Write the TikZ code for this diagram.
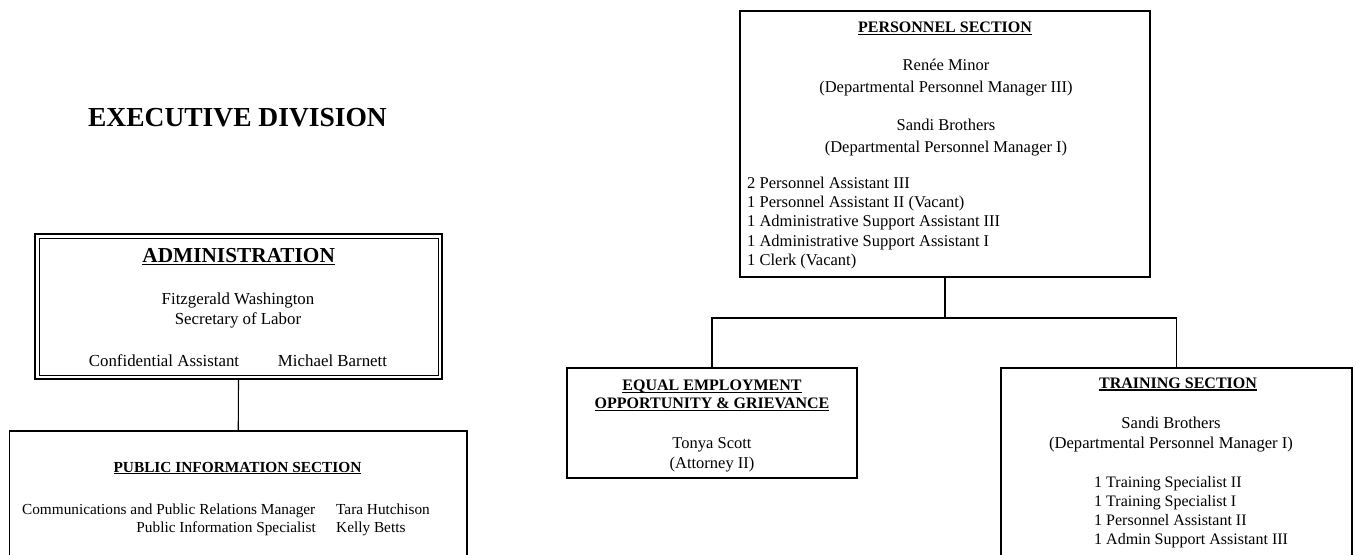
\documentclass[tikz,border=0pt]{standalone}
\usepackage{fontspec}
\setmainfont{Liberation Serif}
\newcommand\ulx[1]{\setbox0\hbox{#1}\rlap{\rule[-0.15em]{\wd0}{0.07em}}\box0}
\begin{document}
\begin{tikzpicture}[x=1pt,y=-1pt,
  box/.style={draw, line width=1.1pt, inner sep=0pt, outer sep=0pt},
  conn/.style={draw, line width=1.1pt},
  ttl/.style={font=\bfseries\fontsize{16}{18}\selectfont, anchor=base, inner sep=0pt},
  txt/.style={inner sep=0pt, align=center},
  lst/.style={inner sep=0pt, align=left, anchor=west}]
\useasboundingbox (0,0) rectangle (1356,554);
\clip (0,0) rectangle (1356,554);

\node[font=\bfseries\fontsize{27.5}{30}\selectfont, inner sep=0pt] (exec) at (237.5,118) {EXECUTIVE DIVISION};

% Administration
\node[box, line width=2pt, minimum width=407pt, minimum height=145pt] (admin) at (238.5,306.5) {};
\draw[line width=1pt] ([shift={(4,4)}]admin.north west) rectangle ([shift={(-4,-4)}]admin.south east);
\node[ttl, font=\bfseries\fontsize{21.3}{24}\selectfont] (admt) at (238.7,262) {\ulx{ADMINISTRATION}};
\node[txt, font=\fontsize{16.85}{20}\selectfont] (sec) at (238,310.5) {Fitzgerald Washington\\Secretary of Labor};
\node[inner sep=0pt, anchor=base, font=\fontsize{16.85}{20}\selectfont] (ca) at (164,366.6) {Confidential Assistant};
\node[inner sep=0pt, anchor=base, font=\fontsize{16.85}{20}\selectfont] (mb) at (332.5,366.6) {Michael Barnett};

% Public information
\node[box, minimum width=457.5pt, minimum height=200pt, anchor=north] (pis) at (238.25,431) {};
\node[ttl, font=\bfseries\fontsize{15.35}{18}\selectfont] (pist) at (237.5,472) {\ulx{PUBLIC INFORMATION SECTION}};
\node[inner sep=0pt, anchor=base east, font=\fontsize{15.3}{18}\selectfont] (cprm) at (315.5,514) {Communications and Public Relations Manager};
\node[inner sep=0pt, anchor=base east, font=\fontsize{15.3}{18}\selectfont] (pisp) at (316,532) {Public Information Specialist};
\node[inner sep=0pt, anchor=base west, font=\fontsize{15.3}{18}\selectfont] (th) at (336,514) {Tara Hutchison};
\node[inner sep=0pt, anchor=base west, font=\fontsize{15.3}{18}\selectfont] (kb) at (336,532) {Kelly Betts};

% Personnel
\node[box, minimum width=410pt, minimum height=266pt] (pers) at (945,144) {};
\node[ttl] (perst) at (945,32.3) {\ulx{PERSONNEL SECTION}};
\node[txt, font=\fontsize{16.5}{22}\selectfont] (rm) at (946,77.5) {Renée Minor\\(Departmental Personnel Manager III)};
\node[txt, font=\fontsize{16.5}{22}\selectfont] (sb) at (946,137.5) {Sandi Brothers\\(Departmental Personnel Manager I)};
\node[lst, font=\fontsize{16.5}{19.25}\selectfont] (perl) at (747,223) {2 Personnel Assistant III\\1 Personnel Assistant II (Vacant)\\1 Administrative Support Assistant III\\1 Administrative Support Assistant I\\1 Clerk (Vacant)};

% EEO
\node[box, minimum width=290pt, minimum height=110pt] (eeo) at (712,423) {};
\node[ttl] (eeot1) at (712,390.3) {\ulx{EQUAL EMPLOYMENT}};
\node[ttl] (eeot2) at (712,408.3) {\ulx{OPPORTUNITY \& GRIEVANCE}};
\node[txt, font=\fontsize{16.5}{20}\selectfont] (ts) at (712,454.5) {Tonya Scott\\(Attorney II)};

% Training
\node[box, minimum width=351pt, minimum height=250pt, anchor=north] (train) at (1176.5,368) {};
\node[ttl] (trt) at (1178,388.2) {\ulx{TRAINING SECTION}};
\node[txt, font=\fontsize{16.6}{20}\selectfont] (tsb) at (1171,434.5) {Sandi Brothers\\(Departmental Personnel Manager I)};
\node[lst, font=\fontsize{16}{19}\selectfont] (trl) at (1094,512) {1 Training Specialist II\\1 Training Specialist I\\1 Personnel Assistant II\\1 Admin Support Assistant III};

% Connectors
\coordinate (j) at (945,318);
\draw[conn] (admin.south) -- (pis.north);
\draw[conn] (pers.south) -- (j);
\draw[conn] (eeo.north) |- (j) -| (train.north);
\end{tikzpicture}
\end{document}
